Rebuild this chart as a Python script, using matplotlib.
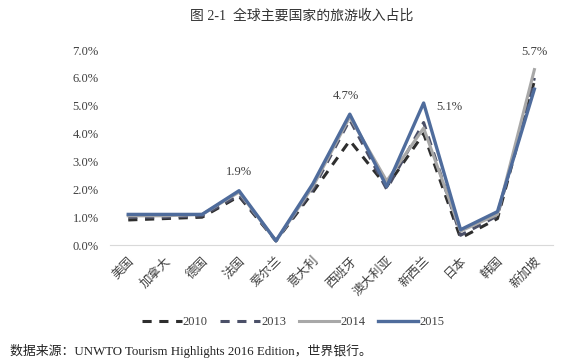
import matplotlib
matplotlib.use("Agg")
import matplotlib.pyplot as plt
from matplotlib.ticker import FuncFormatter

categories = ["美国", "加拿大", "德国", "法国", "爱尔兰", "意大利", "西班牙", "澳大利亚", "新西兰", "日本", "韩国", "新加坡"]
v2010 = [0.9, 0.95, 1.0, 1.75, 0.15, 1.9, 3.75, 2.1, 4.0, 0.25, 0.95, 5.9]
v2013 = [1.0, 1.0, 1.05, 1.8, 0.15, 2.0, 4.5, 2.0, 4.4, 0.35, 1.05, 6.0]
v2014 = [1.05, 1.05, 1.1, 1.9, 0.15, 2.1, 4.6, 2.3, 4.2, 0.5, 1.1, 6.3]
v2015 = [1.1, 1.1, 1.1, 1.95, 0.15, 2.2, 4.7, 2.1, 5.1, 0.55, 1.2, 5.6]

FAM = ["Liberation Serif", "Noto Sans CJK SC"]
plt.rcParams["font.family"] = FAM

fig = plt.figure(figsize=(5.63, 3.63), dpi=100)
ax = fig.add_axes([0.195, 0.325, 0.787, 0.537])
x = list(range(len(categories)))

ax.plot(x, v2010, color="#2e2e2e", lw=2.2, ls=(0, (3, 2.5)), label="2010", zorder=2)
ax.plot(x, v2013, color="#4b5068", lw=2.2, ls=(0, (3, 2.5)), label="2013", zorder=3)
ax.plot(x, v2014, color="#a8a8a8", lw=2.2, label="2014", zorder=4)
ax.plot(x, v2015, color="#4f6c9c", lw=2.4, label="2015", zorder=5)

ax.annotate("1.9%", (3, v2014[3]), xytext=(0, 10), textcoords="offset points",
            ha="center", va="bottom", fontsize=9, color="#404040")
ax.annotate("4.7%", (6, v2015[6]), xytext=(-3, 9), textcoords="offset points",
            ha="center", va="bottom", fontsize=9, color="#404040")
ax.annotate("5.1%", (8, v2015[8]), xytext=(9, -3), textcoords="offset points",
            ha="left", va="center", fontsize=9, color="#404040")
ax.annotate("5.7%", (11, v2014[11]), xytext=(0, 8), textcoords="offset points",
            ha="center", va="bottom", fontsize=9, color="#404040")

ax.set_xlim(-0.5, len(categories) - 0.5)
ax.set_ylim(0, 7)
ax.set_yticks([0, 1, 2, 3, 4, 5, 6, 7])
ax.yaxis.set_major_formatter(FuncFormatter(lambda v, p: f"{v:.1f}%"))
ax.set_xticks(x)
ax.set_xticklabels(categories, rotation=45, ha="right", rotation_mode="anchor",
                   fontsize=9, color="#404040")
for s in ["top", "right", "left"]:
    ax.spines[s].set_visible(False)
ax.spines["bottom"].set_color("#d9d9d9")
ax.tick_params(axis="both", length=0, labelsize=9, colors="#404040")
ax.tick_params(axis="y", pad=8)
ax.tick_params(axis="x", pad=7)

fig.text(0.535, 0.955, "图 2-1  全球主要国家的旅游收入占比", ha="center", va="center",
         fontsize=10, color="#333333")
leg = fig.legend(loc="center", bbox_to_anchor=(0.52, 0.113), ncol=4, frameon=False,
                 fontsize=9, handlelength=3.2, handletextpad=0.1, columnspacing=1.0)
for t in leg.get_texts():
    t.set_color("#404040")
fig.text(0.018, 0.032, "数据来源：UNWTO Tourism Highlights 2016 Edition，世界银行。",
         ha="left", va="center", fontsize=9.3, color="#222222")

fig.savefig("out.png", dpi=100)
